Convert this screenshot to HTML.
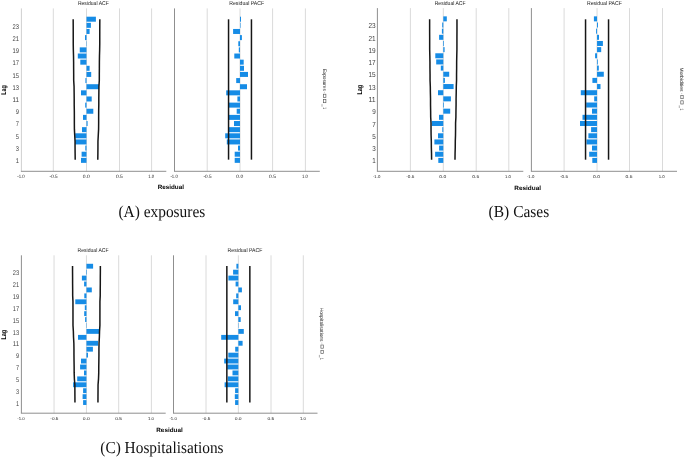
<!DOCTYPE html>
<html><head><meta charset="utf-8"><title>Residual ACF/PACF</title>
<style>html,body{margin:0;padding:0;background:#fff;width:685px;height:458px;overflow:hidden}svg{display:block;will-change:transform}text{text-rendering:geometricPrecision}</style>
</head><body>
<svg width="685" height="458" viewBox="0 0 685 458">
<rect width="685" height="458" fill="#fff"/>
<line x1="53.30" y1="8.40" x2="53.30" y2="171.30" stroke="#dadada" stroke-width="1"/>
<line x1="86.50" y1="8.40" x2="86.50" y2="171.30" stroke="#dadada" stroke-width="1"/>
<line x1="119.50" y1="8.40" x2="119.50" y2="171.30" stroke="#dadada" stroke-width="1"/>
<line x1="151.60" y1="8.40" x2="151.60" y2="171.30" stroke="#dadada" stroke-width="1"/>
<line x1="21.40" y1="8.40" x2="21.40" y2="171.30" stroke="#cfcfcf" stroke-width="1"/>
<line x1="20.90" y1="171.30" x2="166.30" y2="171.30" stroke="#8f8f8f" stroke-width="1"/>
<text x="21.00" y="177.80" font-size="4.8" text-anchor="middle" fill="#1e1e1e" font-family='"Liberation Sans", sans-serif' textLength="7.40" lengthAdjust="spacingAndGlyphs">-1.0</text>
<text x="53.60" y="177.80" font-size="4.8" text-anchor="middle" fill="#1e1e1e" font-family='"Liberation Sans", sans-serif' textLength="8.00" lengthAdjust="spacingAndGlyphs">-0.5</text>
<text x="86.30" y="177.80" font-size="4.8" text-anchor="middle" fill="#1e1e1e" font-family='"Liberation Sans", sans-serif' textLength="6.90" lengthAdjust="spacingAndGlyphs">0.0</text>
<text x="119.40" y="177.80" font-size="4.8" text-anchor="middle" fill="#1e1e1e" font-family='"Liberation Sans", sans-serif' textLength="6.90" lengthAdjust="spacingAndGlyphs">0.5</text>
<text x="151.20" y="177.80" font-size="4.8" text-anchor="middle" fill="#1e1e1e" font-family='"Liberation Sans", sans-serif' textLength="6.00" lengthAdjust="spacingAndGlyphs">1.0</text>
<rect x="81.00" y="157.85" width="5.50" height="5.00" fill="#168ce6"/>
<rect x="81.60" y="151.71" width="4.90" height="5.00" fill="#168ce6"/>
<rect x="85.30" y="145.58" width="1.20" height="5.00" fill="#168ce6"/>
<rect x="75.20" y="139.44" width="11.30" height="5.00" fill="#168ce6"/>
<rect x="75.20" y="133.30" width="11.30" height="5.00" fill="#168ce6"/>
<rect x="82.00" y="127.16" width="4.50" height="5.00" fill="#168ce6"/>
<rect x="86.50" y="121.03" width="1.10" height="5.00" fill="#168ce6"/>
<rect x="83.00" y="114.89" width="3.50" height="5.00" fill="#168ce6"/>
<rect x="86.50" y="108.75" width="6.80" height="5.00" fill="#168ce6"/>
<rect x="85.20" y="102.62" width="1.30" height="5.00" fill="#168ce6"/>
<rect x="86.50" y="96.48" width="5.20" height="5.00" fill="#168ce6"/>
<rect x="81.00" y="90.34" width="5.50" height="5.00" fill="#168ce6"/>
<rect x="86.50" y="84.21" width="12.50" height="5.00" fill="#168ce6"/>
<rect x="85.40" y="78.07" width="1.10" height="5.00" fill="#168ce6"/>
<rect x="86.50" y="71.93" width="4.70" height="5.00" fill="#168ce6"/>
<rect x="86.50" y="65.80" width="3.10" height="5.00" fill="#168ce6"/>
<rect x="80.30" y="59.66" width="6.20" height="5.00" fill="#168ce6"/>
<rect x="77.80" y="53.52" width="8.70" height="5.00" fill="#168ce6"/>
<rect x="79.75" y="47.38" width="6.75" height="5.00" fill="#168ce6"/>
<rect x="86.20" y="41.25" width="0.35" height="5.00" fill="#168ce6"/>
<rect x="85.00" y="35.11" width="1.50" height="5.00" fill="#168ce6"/>
<rect x="86.50" y="28.97" width="3.10" height="5.00" fill="#168ce6"/>
<rect x="86.50" y="22.84" width="4.40" height="5.00" fill="#168ce6"/>
<rect x="86.50" y="16.70" width="9.40" height="5.00" fill="#168ce6"/>
<polyline points="75.20,159.65 75.12,153.55 75.06,147.45 75.05,141.34 74.72,135.24 74.40,129.14 74.35,123.04 74.35,116.93 74.32,110.83 74.20,104.73 74.20,98.63 74.13,92.53 74.06,86.42 73.69,80.32 73.68,74.22 73.63,68.12 73.61,62.02 73.52,55.91 73.34,49.81 73.24,43.71 73.24,37.61 73.23,31.50 73.21,25.40 73.17,19.30" fill="none" stroke="#161616" stroke-width="1.5" stroke-linejoin="round"/>
<polyline points="97.80,159.65 97.88,153.55 97.94,147.45 97.95,141.34 98.28,135.24 98.60,129.14 98.65,123.04 98.65,116.93 98.68,110.83 98.80,104.73 98.80,98.63 98.87,92.53 98.94,86.42 99.31,80.32 99.32,74.22 99.37,68.12 99.39,62.02 99.48,55.91 99.66,49.81 99.76,43.71 99.76,37.61 99.77,31.50 99.79,25.40 99.83,19.30" fill="none" stroke="#161616" stroke-width="1.5" stroke-linejoin="round"/>
<text x="93.35" y="5.00" font-size="5.6" text-anchor="middle" fill="#222" font-family='"Liberation Sans", sans-serif' textLength="30.90" lengthAdjust="spacingAndGlyphs">Residual ACF</text>
<line x1="207.20" y1="8.40" x2="207.20" y2="171.30" stroke="#dadada" stroke-width="1"/>
<line x1="240.00" y1="8.40" x2="240.00" y2="171.30" stroke="#dadada" stroke-width="1"/>
<line x1="272.60" y1="8.40" x2="272.60" y2="171.30" stroke="#dadada" stroke-width="1"/>
<line x1="305.40" y1="8.40" x2="305.40" y2="171.30" stroke="#dadada" stroke-width="1"/>
<line x1="174.50" y1="8.40" x2="174.50" y2="171.30" stroke="#8f8f8f" stroke-width="1"/>
<line x1="174.00" y1="171.30" x2="319.80" y2="171.30" stroke="#8f8f8f" stroke-width="1"/>
<text x="174.10" y="177.80" font-size="4.8" text-anchor="middle" fill="#1e1e1e" font-family='"Liberation Sans", sans-serif' textLength="7.40" lengthAdjust="spacingAndGlyphs">-1.0</text>
<text x="207.50" y="177.80" font-size="4.8" text-anchor="middle" fill="#1e1e1e" font-family='"Liberation Sans", sans-serif' textLength="8.00" lengthAdjust="spacingAndGlyphs">-0.5</text>
<text x="239.80" y="177.80" font-size="4.8" text-anchor="middle" fill="#1e1e1e" font-family='"Liberation Sans", sans-serif' textLength="6.90" lengthAdjust="spacingAndGlyphs">0.0</text>
<text x="272.50" y="177.80" font-size="4.8" text-anchor="middle" fill="#1e1e1e" font-family='"Liberation Sans", sans-serif' textLength="6.90" lengthAdjust="spacingAndGlyphs">0.5</text>
<text x="305.00" y="177.80" font-size="4.8" text-anchor="middle" fill="#1e1e1e" font-family='"Liberation Sans", sans-serif' textLength="6.00" lengthAdjust="spacingAndGlyphs">1.0</text>
<rect x="234.70" y="157.85" width="5.30" height="5.00" fill="#168ce6"/>
<rect x="234.70" y="151.71" width="5.30" height="5.00" fill="#168ce6"/>
<rect x="238.00" y="145.58" width="2.00" height="5.00" fill="#168ce6"/>
<rect x="226.80" y="139.44" width="13.20" height="5.00" fill="#168ce6"/>
<rect x="225.20" y="133.30" width="14.80" height="5.00" fill="#168ce6"/>
<rect x="228.90" y="127.16" width="11.10" height="5.00" fill="#168ce6"/>
<rect x="234.00" y="121.03" width="6.00" height="5.00" fill="#168ce6"/>
<rect x="228.90" y="114.89" width="11.10" height="5.00" fill="#168ce6"/>
<rect x="236.70" y="108.75" width="3.30" height="5.00" fill="#168ce6"/>
<rect x="229.00" y="102.62" width="11.00" height="5.00" fill="#168ce6"/>
<rect x="237.40" y="96.48" width="2.60" height="5.00" fill="#168ce6"/>
<rect x="226.20" y="90.34" width="13.80" height="5.00" fill="#168ce6"/>
<rect x="240.00" y="84.21" width="7.00" height="5.00" fill="#168ce6"/>
<rect x="236.20" y="78.07" width="3.80" height="5.00" fill="#168ce6"/>
<rect x="240.00" y="71.93" width="8.00" height="5.00" fill="#168ce6"/>
<rect x="240.00" y="65.80" width="4.00" height="5.00" fill="#168ce6"/>
<rect x="240.00" y="59.66" width="3.70" height="5.00" fill="#168ce6"/>
<rect x="234.30" y="53.52" width="5.70" height="5.00" fill="#168ce6"/>
<rect x="238.80" y="47.38" width="1.20" height="5.00" fill="#168ce6"/>
<rect x="238.30" y="41.25" width="1.70" height="5.00" fill="#168ce6"/>
<rect x="240.00" y="35.11" width="1.90" height="5.00" fill="#168ce6"/>
<rect x="233.10" y="28.97" width="6.90" height="5.00" fill="#168ce6"/>
<rect x="240.00" y="22.84" width="0.50" height="5.00" fill="#168ce6"/>
<rect x="240.00" y="16.70" width="1.00" height="5.00" fill="#168ce6"/>
<polyline points="228.55,159.65 228.55,153.55 228.55,147.45 228.55,141.34 228.55,135.24 228.55,129.14 228.55,123.04 228.55,116.93 228.55,110.83 228.55,104.73 228.55,98.63 228.55,92.53 228.55,86.42 228.55,80.32 228.55,74.22 228.55,68.12 228.55,62.02 228.55,55.91 228.55,49.81 228.55,43.71 228.55,37.61 228.55,31.50 228.55,25.40 228.55,19.30" fill="none" stroke="#161616" stroke-width="1.5" stroke-linejoin="round"/>
<polyline points="251.45,159.65 251.45,153.55 251.45,147.45 251.45,141.34 251.45,135.24 251.45,129.14 251.45,123.04 251.45,116.93 251.45,110.83 251.45,104.73 251.45,98.63 251.45,92.53 251.45,86.42 251.45,80.32 251.45,74.22 251.45,68.12 251.45,62.02 251.45,55.91 251.45,49.81 251.45,43.71 251.45,37.61 251.45,31.50 251.45,25.40 251.45,19.30" fill="none" stroke="#161616" stroke-width="1.5" stroke-linejoin="round"/>
<text x="246.65" y="5.00" font-size="5.6" text-anchor="middle" fill="#222" font-family='"Liberation Sans", sans-serif' textLength="34.80" lengthAdjust="spacingAndGlyphs">Residual PACF</text>
<text x="19.00" y="162.90" font-size="6.8" text-anchor="end" fill="#444" font-family='"Liberation Sans", sans-serif' textLength="3.20" lengthAdjust="spacingAndGlyphs">1</text>
<text x="19.00" y="150.72" font-size="6.8" text-anchor="end" fill="#444" font-family='"Liberation Sans", sans-serif' textLength="3.20" lengthAdjust="spacingAndGlyphs">3</text>
<text x="19.00" y="138.54" font-size="6.8" text-anchor="end" fill="#444" font-family='"Liberation Sans", sans-serif' textLength="3.20" lengthAdjust="spacingAndGlyphs">5</text>
<text x="19.00" y="126.36" font-size="6.8" text-anchor="end" fill="#444" font-family='"Liberation Sans", sans-serif' textLength="3.20" lengthAdjust="spacingAndGlyphs">7</text>
<text x="19.00" y="114.18" font-size="6.8" text-anchor="end" fill="#444" font-family='"Liberation Sans", sans-serif' textLength="3.20" lengthAdjust="spacingAndGlyphs">9</text>
<text x="19.00" y="102.00" font-size="6.8" text-anchor="end" fill="#444" font-family='"Liberation Sans", sans-serif' textLength="6.50" lengthAdjust="spacingAndGlyphs">11</text>
<text x="19.00" y="89.82" font-size="6.8" text-anchor="end" fill="#444" font-family='"Liberation Sans", sans-serif' textLength="6.50" lengthAdjust="spacingAndGlyphs">13</text>
<text x="19.00" y="77.64" font-size="6.8" text-anchor="end" fill="#444" font-family='"Liberation Sans", sans-serif' textLength="6.50" lengthAdjust="spacingAndGlyphs">15</text>
<text x="19.00" y="65.46" font-size="6.8" text-anchor="end" fill="#444" font-family='"Liberation Sans", sans-serif' textLength="6.50" lengthAdjust="spacingAndGlyphs">17</text>
<text x="19.00" y="53.28" font-size="6.8" text-anchor="end" fill="#444" font-family='"Liberation Sans", sans-serif' textLength="6.50" lengthAdjust="spacingAndGlyphs">19</text>
<text x="19.00" y="41.10" font-size="6.8" text-anchor="end" fill="#444" font-family='"Liberation Sans", sans-serif' textLength="6.50" lengthAdjust="spacingAndGlyphs">21</text>
<text x="19.00" y="28.92" font-size="6.8" text-anchor="end" fill="#444" font-family='"Liberation Sans", sans-serif' textLength="6.50" lengthAdjust="spacingAndGlyphs">23</text>
<text x="5.70" y="89.95" font-size="7.0" text-anchor="middle" fill="#000" font-family='"Liberation Sans", sans-serif' font-weight="bold" textLength="9.50" lengthAdjust="spacingAndGlyphs" transform="rotate(-90 5.70 89.95)">Lag</text>
<text x="170.85" y="189.40" font-size="6.2" text-anchor="middle" fill="#000" font-family='"Liberation Sans", sans-serif' font-weight="bold" textLength="26.30" lengthAdjust="spacingAndGlyphs">Residual</text>
<text x="322.80" y="68.90" font-size="5.0" text-anchor="start" fill="#222" font-family='"Liberation Sans", sans-serif' textLength="21.80" lengthAdjust="spacingAndGlyphs" transform="rotate(90 322.80 68.90)">Exposures</text>
<line x1="324.40" y1="91.80" x2="324.40" y2="92.80" stroke="#999" stroke-width="0.6"/>
<rect x="323.50" y="94.20" width="2.4" height="3.2" fill="none" stroke="#555" stroke-width="0.65"/>
<rect x="323.50" y="99.50" width="2.4" height="3.2" fill="none" stroke="#555" stroke-width="0.65"/>
<line x1="322.00" y1="104.10" x2="322.00" y2="106.70" stroke="#777" stroke-width="0.6"/>
<text x="322.80" y="107.20" font-size="5.0" text-anchor="start" fill="#333" font-family='"Liberation Sans", sans-serif' textLength="1.80" lengthAdjust="spacingAndGlyphs" transform="rotate(90 322.80 107.20)">1</text>
<text x="118.40" y="216.60" font-size="16.7" text-anchor="start" fill="#111" font-family='"Liberation Serif", serif' textLength="86.90" lengthAdjust="spacingAndGlyphs">(A) exposures</text>
<line x1="410.40" y1="8.10" x2="410.40" y2="171.30" stroke="#dadada" stroke-width="1"/>
<line x1="443.30" y1="8.10" x2="443.30" y2="171.30" stroke="#dadada" stroke-width="1"/>
<line x1="476.20" y1="8.10" x2="476.20" y2="171.30" stroke="#dadada" stroke-width="1"/>
<line x1="508.80" y1="8.10" x2="508.80" y2="171.30" stroke="#dadada" stroke-width="1"/>
<line x1="377.40" y1="8.10" x2="377.40" y2="171.30" stroke="#8f8f8f" stroke-width="1"/>
<line x1="376.90" y1="171.30" x2="523.30" y2="171.30" stroke="#8f8f8f" stroke-width="1"/>
<text x="376.60" y="178.00" font-size="4.2" text-anchor="middle" fill="#1e1e1e" font-family='"Liberation Sans", sans-serif' textLength="7.40" lengthAdjust="spacingAndGlyphs">-1.0</text>
<text x="410.30" y="178.00" font-size="4.2" text-anchor="middle" fill="#1e1e1e" font-family='"Liberation Sans", sans-serif' textLength="8.00" lengthAdjust="spacingAndGlyphs">-0.5</text>
<text x="442.70" y="178.00" font-size="4.2" text-anchor="middle" fill="#1e1e1e" font-family='"Liberation Sans", sans-serif' textLength="6.90" lengthAdjust="spacingAndGlyphs">0.0</text>
<text x="475.70" y="178.00" font-size="4.2" text-anchor="middle" fill="#1e1e1e" font-family='"Liberation Sans", sans-serif' textLength="6.90" lengthAdjust="spacingAndGlyphs">0.5</text>
<text x="508.00" y="178.00" font-size="4.2" text-anchor="middle" fill="#1e1e1e" font-family='"Liberation Sans", sans-serif' textLength="6.00" lengthAdjust="spacingAndGlyphs">1.0</text>
<rect x="438.30" y="157.90" width="5.00" height="5.00" fill="#168ce6"/>
<rect x="435.10" y="151.75" width="8.20" height="5.00" fill="#168ce6"/>
<rect x="439.10" y="145.59" width="4.20" height="5.00" fill="#168ce6"/>
<rect x="434.40" y="139.44" width="8.90" height="5.00" fill="#168ce6"/>
<rect x="438.00" y="133.28" width="5.30" height="5.00" fill="#168ce6"/>
<rect x="442.30" y="127.13" width="1.00" height="5.00" fill="#168ce6"/>
<rect x="431.80" y="120.98" width="11.50" height="5.00" fill="#168ce6"/>
<rect x="439.00" y="114.82" width="4.30" height="5.00" fill="#168ce6"/>
<rect x="443.30" y="108.67" width="6.90" height="5.00" fill="#168ce6"/>
<rect x="443.30" y="102.51" width="0.70" height="5.00" fill="#168ce6"/>
<rect x="443.30" y="96.36" width="7.60" height="5.00" fill="#168ce6"/>
<rect x="438.00" y="90.21" width="5.30" height="5.00" fill="#168ce6"/>
<rect x="443.30" y="84.05" width="10.30" height="5.00" fill="#168ce6"/>
<rect x="443.30" y="77.90" width="1.60" height="5.00" fill="#168ce6"/>
<rect x="443.30" y="71.74" width="5.90" height="5.00" fill="#168ce6"/>
<rect x="440.80" y="65.59" width="2.50" height="5.00" fill="#168ce6"/>
<rect x="436.20" y="59.44" width="7.10" height="5.00" fill="#168ce6"/>
<rect x="435.30" y="53.28" width="8.00" height="5.00" fill="#168ce6"/>
<rect x="443.30" y="47.13" width="1.30" height="5.00" fill="#168ce6"/>
<rect x="443.30" y="40.97" width="0.70" height="5.00" fill="#168ce6"/>
<rect x="439.10" y="34.82" width="4.20" height="5.00" fill="#168ce6"/>
<rect x="441.90" y="28.67" width="1.40" height="5.00" fill="#168ce6"/>
<rect x="442.20" y="22.51" width="1.10" height="5.00" fill="#168ce6"/>
<rect x="443.30" y="16.36" width="3.50" height="5.00" fill="#168ce6"/>
<polyline points="431.60,159.70 431.53,153.60 431.35,147.49 431.31,141.39 431.10,135.28 431.03,129.18 431.02,123.07 430.69,116.97 430.64,110.87 430.52,104.76 430.52,98.66 430.38,92.55 430.31,86.45 430.05,80.34 430.05,74.24 429.96,68.13 429.95,62.03 429.83,55.93 429.68,49.82 429.67,43.72 429.67,37.61 429.63,31.51 429.63,25.40 429.63,19.30" fill="none" stroke="#161616" stroke-width="1.5" stroke-linejoin="round"/>
<polyline points="455.00,159.70 455.07,153.60 455.25,147.49 455.29,141.39 455.50,135.28 455.57,129.18 455.58,123.07 455.91,116.97 455.96,110.87 456.08,104.76 456.08,98.66 456.22,92.55 456.29,86.45 456.55,80.34 456.55,74.24 456.64,68.13 456.65,62.03 456.77,55.93 456.92,49.82 456.93,43.72 456.93,37.61 456.97,31.51 456.97,25.40 456.97,19.30" fill="none" stroke="#161616" stroke-width="1.5" stroke-linejoin="round"/>
<text x="450.15" y="5.00" font-size="5.6" text-anchor="middle" fill="#222" font-family='"Liberation Sans", sans-serif' textLength="30.90" lengthAdjust="spacingAndGlyphs">Residual ACF</text>
<line x1="564.10" y1="8.10" x2="564.10" y2="171.30" stroke="#dadada" stroke-width="1"/>
<line x1="597.05" y1="8.10" x2="597.05" y2="171.30" stroke="#dadada" stroke-width="1"/>
<line x1="629.50" y1="8.10" x2="629.50" y2="171.30" stroke="#dadada" stroke-width="1"/>
<line x1="662.50" y1="8.10" x2="662.50" y2="171.30" stroke="#dadada" stroke-width="1"/>
<line x1="531.40" y1="8.10" x2="531.40" y2="171.30" stroke="#8f8f8f" stroke-width="1"/>
<line x1="530.90" y1="171.30" x2="677.00" y2="171.30" stroke="#8f8f8f" stroke-width="1"/>
<text x="530.60" y="178.00" font-size="4.2" text-anchor="middle" fill="#1e1e1e" font-family='"Liberation Sans", sans-serif' textLength="7.40" lengthAdjust="spacingAndGlyphs">-1.0</text>
<text x="564.00" y="178.00" font-size="4.2" text-anchor="middle" fill="#1e1e1e" font-family='"Liberation Sans", sans-serif' textLength="8.00" lengthAdjust="spacingAndGlyphs">-0.5</text>
<text x="596.45" y="178.00" font-size="4.2" text-anchor="middle" fill="#1e1e1e" font-family='"Liberation Sans", sans-serif' textLength="6.90" lengthAdjust="spacingAndGlyphs">0.0</text>
<text x="629.00" y="178.00" font-size="4.2" text-anchor="middle" fill="#1e1e1e" font-family='"Liberation Sans", sans-serif' textLength="6.90" lengthAdjust="spacingAndGlyphs">0.5</text>
<text x="661.70" y="178.00" font-size="4.2" text-anchor="middle" fill="#1e1e1e" font-family='"Liberation Sans", sans-serif' textLength="6.00" lengthAdjust="spacingAndGlyphs">1.0</text>
<rect x="592.30" y="157.90" width="4.75" height="5.00" fill="#168ce6"/>
<rect x="589.20" y="151.75" width="7.85" height="5.00" fill="#168ce6"/>
<rect x="592.00" y="145.59" width="5.05" height="5.00" fill="#168ce6"/>
<rect x="586.50" y="139.44" width="10.55" height="5.00" fill="#168ce6"/>
<rect x="588.40" y="133.28" width="8.65" height="5.00" fill="#168ce6"/>
<rect x="591.10" y="127.13" width="5.95" height="5.00" fill="#168ce6"/>
<rect x="580.00" y="120.98" width="17.05" height="5.00" fill="#168ce6"/>
<rect x="582.50" y="114.82" width="14.55" height="5.00" fill="#168ce6"/>
<rect x="592.00" y="108.67" width="5.05" height="5.00" fill="#168ce6"/>
<rect x="586.20" y="102.51" width="10.85" height="5.00" fill="#168ce6"/>
<rect x="594.20" y="96.36" width="2.85" height="5.00" fill="#168ce6"/>
<rect x="580.80" y="90.21" width="16.25" height="5.00" fill="#168ce6"/>
<rect x="597.05" y="84.05" width="3.45" height="5.00" fill="#168ce6"/>
<rect x="592.40" y="77.90" width="4.65" height="5.00" fill="#168ce6"/>
<rect x="597.05" y="71.74" width="6.75" height="5.00" fill="#168ce6"/>
<rect x="597.05" y="65.59" width="1.75" height="5.00" fill="#168ce6"/>
<rect x="597.05" y="59.44" width="0.75" height="5.00" fill="#168ce6"/>
<rect x="595.10" y="53.28" width="1.95" height="5.00" fill="#168ce6"/>
<rect x="597.05" y="47.13" width="4.15" height="5.00" fill="#168ce6"/>
<rect x="597.05" y="40.97" width="5.85" height="5.00" fill="#168ce6"/>
<rect x="597.05" y="34.82" width="1.95" height="5.00" fill="#168ce6"/>
<rect x="596.10" y="28.67" width="0.95" height="5.00" fill="#168ce6"/>
<rect x="597.05" y="22.51" width="0.95" height="5.00" fill="#168ce6"/>
<rect x="593.90" y="16.36" width="3.15" height="5.00" fill="#168ce6"/>
<polyline points="585.55,159.70 585.55,153.60 585.55,147.49 585.55,141.39 585.55,135.28 585.55,129.18 585.55,123.07 585.55,116.97 585.55,110.87 585.55,104.76 585.55,98.66 585.55,92.55 585.55,86.45 585.55,80.34 585.55,74.24 585.55,68.13 585.55,62.03 585.55,55.93 585.55,49.82 585.55,43.72 585.55,37.61 585.55,31.51 585.55,25.40 585.55,19.30" fill="none" stroke="#161616" stroke-width="1.5" stroke-linejoin="round"/>
<polyline points="608.55,159.70 608.55,153.60 608.55,147.49 608.55,141.39 608.55,135.28 608.55,129.18 608.55,123.07 608.55,116.97 608.55,110.87 608.55,104.76 608.55,98.66 608.55,92.55 608.55,86.45 608.55,80.34 608.55,74.24 608.55,68.13 608.55,62.03 608.55,55.93 608.55,49.82 608.55,43.72 608.55,37.61 608.55,31.51 608.55,25.40 608.55,19.30" fill="none" stroke="#161616" stroke-width="1.5" stroke-linejoin="round"/>
<text x="604.40" y="5.00" font-size="5.6" text-anchor="middle" fill="#222" font-family='"Liberation Sans", sans-serif' textLength="34.80" lengthAdjust="spacingAndGlyphs">Residual PACF</text>
<text x="375.70" y="163.30" font-size="7.2" text-anchor="end" fill="#444" font-family='"Liberation Sans", sans-serif' textLength="3.50" lengthAdjust="spacingAndGlyphs">1</text>
<text x="375.70" y="151.04" font-size="7.2" text-anchor="end" fill="#444" font-family='"Liberation Sans", sans-serif' textLength="3.50" lengthAdjust="spacingAndGlyphs">3</text>
<text x="375.70" y="138.78" font-size="7.2" text-anchor="end" fill="#444" font-family='"Liberation Sans", sans-serif' textLength="3.50" lengthAdjust="spacingAndGlyphs">5</text>
<text x="375.70" y="126.52" font-size="7.2" text-anchor="end" fill="#444" font-family='"Liberation Sans", sans-serif' textLength="3.50" lengthAdjust="spacingAndGlyphs">7</text>
<text x="375.70" y="114.26" font-size="7.2" text-anchor="end" fill="#444" font-family='"Liberation Sans", sans-serif' textLength="3.50" lengthAdjust="spacingAndGlyphs">9</text>
<text x="375.70" y="102.00" font-size="7.2" text-anchor="end" fill="#444" font-family='"Liberation Sans", sans-serif' textLength="7.20" lengthAdjust="spacingAndGlyphs">11</text>
<text x="375.70" y="89.74" font-size="7.2" text-anchor="end" fill="#444" font-family='"Liberation Sans", sans-serif' textLength="7.20" lengthAdjust="spacingAndGlyphs">13</text>
<text x="375.70" y="77.48" font-size="7.2" text-anchor="end" fill="#444" font-family='"Liberation Sans", sans-serif' textLength="7.20" lengthAdjust="spacingAndGlyphs">15</text>
<text x="375.70" y="65.22" font-size="7.2" text-anchor="end" fill="#444" font-family='"Liberation Sans", sans-serif' textLength="7.20" lengthAdjust="spacingAndGlyphs">17</text>
<text x="375.70" y="52.96" font-size="7.2" text-anchor="end" fill="#444" font-family='"Liberation Sans", sans-serif' textLength="7.20" lengthAdjust="spacingAndGlyphs">19</text>
<text x="375.70" y="40.70" font-size="7.2" text-anchor="end" fill="#444" font-family='"Liberation Sans", sans-serif' textLength="7.20" lengthAdjust="spacingAndGlyphs">21</text>
<text x="375.70" y="28.44" font-size="7.2" text-anchor="end" fill="#444" font-family='"Liberation Sans", sans-serif' textLength="7.20" lengthAdjust="spacingAndGlyphs">23</text>
<text x="362.00" y="89.70" font-size="7.0" text-anchor="middle" fill="#000" font-family='"Liberation Sans", sans-serif' font-weight="bold" textLength="9.80" lengthAdjust="spacingAndGlyphs" transform="rotate(-90 362.00 89.70)">Lag</text>
<text x="527.70" y="189.80" font-size="6.2" text-anchor="middle" fill="#000" font-family='"Liberation Sans", sans-serif' font-weight="bold" textLength="26.80" lengthAdjust="spacingAndGlyphs">Residual</text>
<text x="680.10" y="67.50" font-size="5.0" text-anchor="start" fill="#222" font-family='"Liberation Sans", sans-serif' textLength="24.10" lengthAdjust="spacingAndGlyphs" transform="rotate(90 680.10 67.50)">Morbidities</text>
<line x1="681.70" y1="93.10" x2="681.70" y2="94.10" stroke="#999" stroke-width="0.6"/>
<rect x="680.80" y="95.50" width="2.4" height="3.2" fill="none" stroke="#555" stroke-width="0.65"/>
<rect x="680.80" y="100.80" width="2.4" height="3.2" fill="none" stroke="#555" stroke-width="0.65"/>
<line x1="679.30" y1="105.40" x2="679.30" y2="108.00" stroke="#777" stroke-width="0.6"/>
<text x="680.10" y="108.50" font-size="5.0" text-anchor="start" fill="#333" font-family='"Liberation Sans", sans-serif' textLength="1.80" lengthAdjust="spacingAndGlyphs" transform="rotate(90 680.10 108.50)">1</text>
<text x="488.60" y="216.60" font-size="16.7" text-anchor="start" fill="#111" font-family='"Liberation Serif", serif' textLength="60.70" lengthAdjust="spacingAndGlyphs">(B) Cases</text>
<line x1="54.05" y1="255.30" x2="54.05" y2="413.20" stroke="#dadada" stroke-width="1"/>
<line x1="86.45" y1="255.30" x2="86.45" y2="413.20" stroke="#dadada" stroke-width="1"/>
<line x1="118.70" y1="255.30" x2="118.70" y2="413.20" stroke="#dadada" stroke-width="1"/>
<line x1="151.40" y1="255.30" x2="151.40" y2="413.20" stroke="#dadada" stroke-width="1"/>
<line x1="21.40" y1="255.30" x2="21.40" y2="413.20" stroke="#8f8f8f" stroke-width="1"/>
<line x1="20.90" y1="413.20" x2="165.70" y2="413.20" stroke="#8f8f8f" stroke-width="1"/>
<text x="21.00" y="419.90" font-size="4.3" text-anchor="middle" fill="#1e1e1e" font-family='"Liberation Sans", sans-serif' textLength="7.40" lengthAdjust="spacingAndGlyphs">-1.0</text>
<text x="54.35" y="419.90" font-size="4.3" text-anchor="middle" fill="#1e1e1e" font-family='"Liberation Sans", sans-serif' textLength="8.00" lengthAdjust="spacingAndGlyphs">-0.5</text>
<text x="86.25" y="419.90" font-size="4.3" text-anchor="middle" fill="#1e1e1e" font-family='"Liberation Sans", sans-serif' textLength="6.90" lengthAdjust="spacingAndGlyphs">0.0</text>
<text x="118.60" y="419.90" font-size="4.3" text-anchor="middle" fill="#1e1e1e" font-family='"Liberation Sans", sans-serif' textLength="6.90" lengthAdjust="spacingAndGlyphs">0.5</text>
<text x="151.00" y="419.90" font-size="4.3" text-anchor="middle" fill="#1e1e1e" font-family='"Liberation Sans", sans-serif' textLength="6.00" lengthAdjust="spacingAndGlyphs">1.0</text>
<rect x="83.10" y="400.12" width="3.35" height="4.85" fill="#168ce6"/>
<rect x="82.60" y="394.20" width="3.85" height="4.85" fill="#168ce6"/>
<rect x="83.10" y="388.27" width="3.35" height="4.85" fill="#168ce6"/>
<rect x="73.10" y="382.34" width="13.35" height="4.85" fill="#168ce6"/>
<rect x="77.20" y="376.41" width="9.25" height="4.85" fill="#168ce6"/>
<rect x="84.00" y="370.49" width="2.45" height="4.85" fill="#168ce6"/>
<rect x="80.10" y="364.56" width="6.35" height="4.85" fill="#168ce6"/>
<rect x="81.00" y="358.63" width="5.45" height="4.85" fill="#168ce6"/>
<rect x="86.45" y="352.70" width="1.55" height="4.85" fill="#168ce6"/>
<rect x="86.45" y="346.77" width="6.45" height="4.85" fill="#168ce6"/>
<rect x="86.45" y="340.84" width="11.55" height="4.85" fill="#168ce6"/>
<rect x="78.00" y="334.92" width="8.45" height="4.85" fill="#168ce6"/>
<rect x="86.45" y="328.99" width="12.55" height="4.85" fill="#168ce6"/>
<rect x="86.45" y="323.06" width="0.35" height="4.85" fill="#168ce6"/>
<rect x="85.10" y="317.13" width="1.35" height="4.85" fill="#168ce6"/>
<rect x="84.20" y="311.20" width="2.25" height="4.85" fill="#168ce6"/>
<rect x="84.80" y="305.28" width="1.65" height="4.85" fill="#168ce6"/>
<rect x="75.30" y="299.35" width="11.15" height="4.85" fill="#168ce6"/>
<rect x="84.30" y="293.42" width="2.15" height="4.85" fill="#168ce6"/>
<rect x="86.45" y="287.49" width="5.35" height="4.85" fill="#168ce6"/>
<rect x="84.10" y="281.56" width="2.35" height="4.85" fill="#168ce6"/>
<rect x="81.90" y="275.64" width="4.55" height="4.85" fill="#168ce6"/>
<rect x="86.45" y="269.71" width="0.55" height="4.85" fill="#168ce6"/>
<rect x="86.45" y="263.78" width="6.65" height="4.85" fill="#168ce6"/>
<polyline points="74.95,402.60 74.92,396.66 74.88,390.71 74.85,384.77 74.38,378.83 74.16,372.88 74.14,366.94 74.04,361.00 73.97,355.05 73.96,349.11 73.86,343.17 73.53,337.22 73.36,331.28 72.99,325.33 72.99,319.39 72.98,313.45 72.97,307.50 72.96,301.56 72.68,295.62 72.67,289.67 72.60,283.73 72.59,277.79 72.54,271.84 72.54,265.90" fill="none" stroke="#161616" stroke-width="1.5" stroke-linejoin="round"/>
<polyline points="97.95,402.60 97.98,396.66 98.02,390.71 98.05,384.77 98.52,378.83 98.74,372.88 98.76,366.94 98.86,361.00 98.93,355.05 98.94,349.11 99.04,343.17 99.37,337.22 99.54,331.28 99.91,325.33 99.91,319.39 99.92,313.45 99.93,307.50 99.94,301.56 100.22,295.62 100.23,289.67 100.30,283.73 100.31,277.79 100.36,271.84 100.36,265.90" fill="none" stroke="#161616" stroke-width="1.5" stroke-linejoin="round"/>
<text x="93.05" y="252.20" font-size="5.6" text-anchor="middle" fill="#222" font-family='"Liberation Sans", sans-serif' textLength="30.90" lengthAdjust="spacingAndGlyphs">Residual ACF</text>
<line x1="206.00" y1="255.30" x2="206.00" y2="413.20" stroke="#dadada" stroke-width="1"/>
<line x1="238.35" y1="255.30" x2="238.35" y2="413.20" stroke="#dadada" stroke-width="1"/>
<line x1="271.00" y1="255.30" x2="271.00" y2="413.20" stroke="#dadada" stroke-width="1"/>
<line x1="303.30" y1="255.30" x2="303.30" y2="413.20" stroke="#dadada" stroke-width="1"/>
<line x1="173.50" y1="255.30" x2="173.50" y2="413.20" stroke="#8f8f8f" stroke-width="1"/>
<line x1="173.00" y1="413.20" x2="317.50" y2="413.20" stroke="#8f8f8f" stroke-width="1"/>
<text x="173.10" y="419.90" font-size="4.3" text-anchor="middle" fill="#1e1e1e" font-family='"Liberation Sans", sans-serif' textLength="7.40" lengthAdjust="spacingAndGlyphs">-1.0</text>
<text x="206.30" y="419.90" font-size="4.3" text-anchor="middle" fill="#1e1e1e" font-family='"Liberation Sans", sans-serif' textLength="8.00" lengthAdjust="spacingAndGlyphs">-0.5</text>
<text x="238.15" y="419.90" font-size="4.3" text-anchor="middle" fill="#1e1e1e" font-family='"Liberation Sans", sans-serif' textLength="6.90" lengthAdjust="spacingAndGlyphs">0.0</text>
<text x="270.90" y="419.90" font-size="4.3" text-anchor="middle" fill="#1e1e1e" font-family='"Liberation Sans", sans-serif' textLength="6.90" lengthAdjust="spacingAndGlyphs">0.5</text>
<text x="302.90" y="419.90" font-size="4.3" text-anchor="middle" fill="#1e1e1e" font-family='"Liberation Sans", sans-serif' textLength="6.00" lengthAdjust="spacingAndGlyphs">1.0</text>
<rect x="235.10" y="400.12" width="3.25" height="4.85" fill="#168ce6"/>
<rect x="234.80" y="394.20" width="3.55" height="4.85" fill="#168ce6"/>
<rect x="235.10" y="388.27" width="3.25" height="4.85" fill="#168ce6"/>
<rect x="224.60" y="382.34" width="13.75" height="4.85" fill="#168ce6"/>
<rect x="227.90" y="376.41" width="10.45" height="4.85" fill="#168ce6"/>
<rect x="232.50" y="370.49" width="5.85" height="4.85" fill="#168ce6"/>
<rect x="227.20" y="364.56" width="11.15" height="4.85" fill="#168ce6"/>
<rect x="224.20" y="358.63" width="14.15" height="4.85" fill="#168ce6"/>
<rect x="228.30" y="352.70" width="10.05" height="4.85" fill="#168ce6"/>
<rect x="235.20" y="346.77" width="3.15" height="4.85" fill="#168ce6"/>
<rect x="238.35" y="340.84" width="4.25" height="4.85" fill="#168ce6"/>
<rect x="221.20" y="334.92" width="17.15" height="4.85" fill="#168ce6"/>
<rect x="238.35" y="328.99" width="5.45" height="4.85" fill="#168ce6"/>
<rect x="238.20" y="323.06" width="0.35" height="4.85" fill="#168ce6"/>
<rect x="238.35" y="317.13" width="2.35" height="4.85" fill="#168ce6"/>
<rect x="235.00" y="311.20" width="3.35" height="4.85" fill="#168ce6"/>
<rect x="238.35" y="305.28" width="2.65" height="4.85" fill="#168ce6"/>
<rect x="233.20" y="299.35" width="5.15" height="4.85" fill="#168ce6"/>
<rect x="236.20" y="293.42" width="2.15" height="4.85" fill="#168ce6"/>
<rect x="238.35" y="287.49" width="3.55" height="4.85" fill="#168ce6"/>
<rect x="235.60" y="281.56" width="2.75" height="4.85" fill="#168ce6"/>
<rect x="228.40" y="275.64" width="9.95" height="4.85" fill="#168ce6"/>
<rect x="233.10" y="269.71" width="5.25" height="4.85" fill="#168ce6"/>
<rect x="236.40" y="263.78" width="1.95" height="4.85" fill="#168ce6"/>
<polyline points="226.85,402.60 226.85,396.66 226.85,390.71 226.85,384.77 226.85,378.83 226.85,372.88 226.85,366.94 226.85,361.00 226.85,355.05 226.85,349.11 226.85,343.17 226.85,337.22 226.85,331.28 226.85,325.33 226.85,319.39 226.85,313.45 226.85,307.50 226.85,301.56 226.85,295.62 226.85,289.67 226.85,283.73 226.85,277.79 226.85,271.84 226.85,265.90" fill="none" stroke="#161616" stroke-width="1.5" stroke-linejoin="round"/>
<polyline points="249.85,402.60 249.85,396.66 249.85,390.71 249.85,384.77 249.85,378.83 249.85,372.88 249.85,366.94 249.85,361.00 249.85,355.05 249.85,349.11 249.85,343.17 249.85,337.22 249.85,331.28 249.85,325.33 249.85,319.39 249.85,313.45 249.85,307.50 249.85,301.56 249.85,295.62 249.85,289.67 249.85,283.73 249.85,277.79 249.85,271.84 249.85,265.90" fill="none" stroke="#161616" stroke-width="1.5" stroke-linejoin="round"/>
<text x="245.00" y="252.20" font-size="5.6" text-anchor="middle" fill="#222" font-family='"Liberation Sans", sans-serif' textLength="34.80" lengthAdjust="spacingAndGlyphs">Residual PACF</text>
<text x="19.10" y="405.60" font-size="6.9" text-anchor="end" fill="#444" font-family='"Liberation Sans", sans-serif' textLength="3.10" lengthAdjust="spacingAndGlyphs">1</text>
<text x="19.10" y="393.76" font-size="6.9" text-anchor="end" fill="#444" font-family='"Liberation Sans", sans-serif' textLength="3.10" lengthAdjust="spacingAndGlyphs">3</text>
<text x="19.10" y="381.92" font-size="6.9" text-anchor="end" fill="#444" font-family='"Liberation Sans", sans-serif' textLength="3.10" lengthAdjust="spacingAndGlyphs">5</text>
<text x="19.10" y="370.08" font-size="6.9" text-anchor="end" fill="#444" font-family='"Liberation Sans", sans-serif' textLength="3.10" lengthAdjust="spacingAndGlyphs">7</text>
<text x="19.10" y="358.24" font-size="6.9" text-anchor="end" fill="#444" font-family='"Liberation Sans", sans-serif' textLength="3.10" lengthAdjust="spacingAndGlyphs">9</text>
<text x="19.10" y="346.40" font-size="6.9" text-anchor="end" fill="#444" font-family='"Liberation Sans", sans-serif' textLength="6.40" lengthAdjust="spacingAndGlyphs">11</text>
<text x="19.10" y="334.56" font-size="6.9" text-anchor="end" fill="#444" font-family='"Liberation Sans", sans-serif' textLength="6.40" lengthAdjust="spacingAndGlyphs">13</text>
<text x="19.10" y="322.72" font-size="6.9" text-anchor="end" fill="#444" font-family='"Liberation Sans", sans-serif' textLength="6.40" lengthAdjust="spacingAndGlyphs">15</text>
<text x="19.10" y="310.88" font-size="6.9" text-anchor="end" fill="#444" font-family='"Liberation Sans", sans-serif' textLength="6.40" lengthAdjust="spacingAndGlyphs">17</text>
<text x="19.10" y="299.04" font-size="6.9" text-anchor="end" fill="#444" font-family='"Liberation Sans", sans-serif' textLength="6.40" lengthAdjust="spacingAndGlyphs">19</text>
<text x="19.10" y="287.20" font-size="6.9" text-anchor="end" fill="#444" font-family='"Liberation Sans", sans-serif' textLength="6.40" lengthAdjust="spacingAndGlyphs">21</text>
<text x="19.10" y="275.36" font-size="6.9" text-anchor="end" fill="#444" font-family='"Liberation Sans", sans-serif' textLength="6.40" lengthAdjust="spacingAndGlyphs">23</text>
<text x="5.70" y="334.70" font-size="7.0" text-anchor="middle" fill="#000" font-family='"Liberation Sans", sans-serif' font-weight="bold" textLength="9.80" lengthAdjust="spacingAndGlyphs" transform="rotate(-90 5.70 334.70)">Lag</text>
<text x="169.50" y="432.00" font-size="6.2" text-anchor="middle" fill="#000" font-family='"Liberation Sans", sans-serif' font-weight="bold" textLength="26.40" lengthAdjust="spacingAndGlyphs">Residual</text>
<text x="320.20" y="307.80" font-size="5.0" text-anchor="start" fill="#222" font-family='"Liberation Sans", sans-serif' textLength="33.70" lengthAdjust="spacingAndGlyphs" transform="rotate(90 320.20 307.80)">Hospitalisations</text>
<line x1="321.80" y1="342.60" x2="321.80" y2="343.60" stroke="#999" stroke-width="0.6"/>
<rect x="320.90" y="345.00" width="2.4" height="3.2" fill="none" stroke="#555" stroke-width="0.65"/>
<rect x="320.90" y="350.30" width="2.4" height="3.2" fill="none" stroke="#555" stroke-width="0.65"/>
<line x1="319.40" y1="354.90" x2="319.40" y2="357.50" stroke="#777" stroke-width="0.6"/>
<text x="320.20" y="358.00" font-size="5.0" text-anchor="start" fill="#333" font-family='"Liberation Sans", sans-serif' textLength="1.80" lengthAdjust="spacingAndGlyphs" transform="rotate(90 320.20 358.00)">1</text>
<text x="100.30" y="453.40" font-size="16.7" text-anchor="start" fill="#111" font-family='"Liberation Serif", serif' textLength="123.30" lengthAdjust="spacingAndGlyphs">(C) Hospitalisations</text>
</svg>
</body></html>
